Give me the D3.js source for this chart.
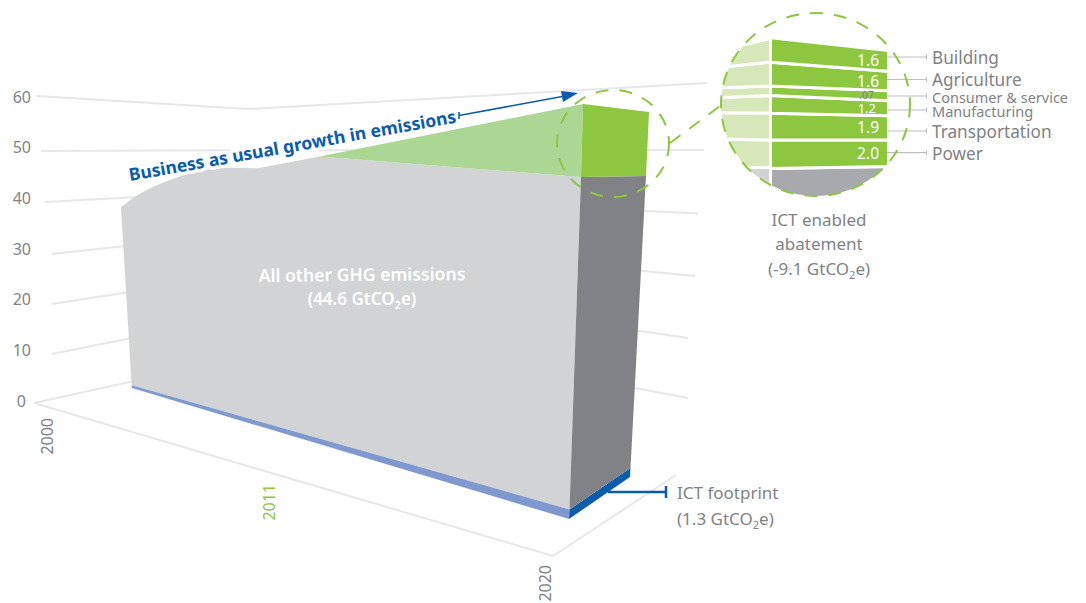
<!DOCTYPE html>
<html>
<head>
<meta charset="utf-8">
<script src="https://cdn.jsdelivr.net/npm/d3@7"></script>
<style>
  html, body { margin: 0; padding: 0; background: #fff; }
  text { font-family: "Noto Sans", sans-serif; fill: #808285; }
</style>
</head>
<body>
<script>
'use strict';

// values (GtCO2e)
var yTicks = [0, 10, 20, 30, 40, 50, 60];
var yearTicks = [2000, 2011, 2020];

// top edge of the wall: curved part, then a straight run to 2011
var wallYears = [2000, 2001.2, 2002.6, 2004.5, 2005.9, 2007.6];
var wallTop = [39, 42.2, 44.6, 46.65, 47.2, 47.1];
var wall2011 = 49;

var footprint2020 = 1.3;
var allOther2020 = 44.6;
var abatement2020 = 9.1;
var bauStartYear = 2011;

var sectors = ["Power", "Transportation", "Manufacturing", "Consumer & service", "Agriculture", "Building"];
var sectorValues = [2.0, 1.9, 1.2, 0.7, 1.6, 1.6];
var sectorLabels = ["2.0", "1.9", "1.2", ".07", "1.6", "1.6"];

var GREEN = "#8dc63f", LIGHT_GREEN = "#acd694", PALE_GREEN = "#d6e7b9";
var GRAY = "#d1d3d4", DARK_GRAY = "#808285", MID_GRAY = "#a7a9ac";
var BLUE = "#0a5cad", LIGHT_BLUE = "#7f99cf", GRID = "#e6e7e8";

var total2020 = footprint2020 + allOther2020;
var bau2020 = total2020 + abatement2020;

var svg = d3.select("body").append("svg")
   .attr("width", 1086)
   .attr("height", 603)
   .style("display", "block");

function sc(domain, range){
   return d3.scaleLinear().domain(domain).range(range);
}

// ---- the fake 3d box: each edge of it is a scale from value to pixel
var yearT = sc(yearTicks, [0, 0.435, 1]);
var frontLeftX = sc([0, 39], [132, 121]);
var frontLeftY = sc([0, footprint2020, 39], [388, 385.3, 207]);
var rightEdgeDomain = [0, footprint2020, total2020, bau2020];
var frontRightX = sc(rightEdgeDomain, [569, 569.5, 581, 583]);
var frontRightY = sc(rightEdgeDomain, [519, 509.5, 177, 104]);
var sideBackX = sc(rightEdgeDomain, [630, 630.5, 646, 649]);
var sideBackY = sc(rightEdgeDomain, [477, 468, 176, 112]);

function wall(year, value){
   var t = yearT(year);
   return [frontLeftX(value) + t * (frontRightX(value) - frontLeftX(value)),
           frontLeftY(value) + t * (frontRightY(value) - frontLeftY(value))];
}
function sideFront(value){ return [frontRightX(value), frontRightY(value)]; }
function sideBack(value){ return [sideBackX(value), sideBackY(value)]; }

// ---- grid
var leftEndX = sc(yTicks, [34, 52, 52, 52, 45, 41, 37]);
var leftEndY = sc(yTicks, [403, 354, 304, 254, 202, 151, 96]);
var backCornerX = sc([0, 60], [248, 248]);
var backCornerY = sc([0, 60], [356, 109]);
var rightEndX = sc(yTicks.slice(1), [688, 688, 695, 698, 704, 707]);
var rightEndY = sc(yTicks.slice(1), [398, 338, 276, 213.5, 150, 83]);

var lineFn = d3.line();

var grid = svg.append("g").attr("fill", "none").attr("stroke", GRID).attr("stroke-width", 2);
grid.selectAll("path.wall")
   .data(yTicks)
   .enter().append("path")
   .attr("class", "wall")
   .attr("d", function(d){
      var pts = [[leftEndX(d), leftEndY(d)], [backCornerX(d), backCornerY(d)]];
      if (d > 0) pts.push([rightEndX(d), rightEndY(d)]);
      return lineFn(pts);
   });

// floor
var floorX = sc([2000, 2020], [34, 553]);
var floorY = sc([2000, 2020], [403, 556]);
grid.append("path")
   .attr("d", lineFn([2000, 2020].map(function(y){ return [floorX(y), floorY(y)]; }).concat([[676, 475]])));

// ---- axes
var yLabelScale = sc([0, 60], [401, 97]);
var yAxis = svg.append("g")
   .attr("transform", "translate(31,0)")
   .call(d3.axisLeft(yLabelScale).tickValues(yTicks).tickSize(0).tickPadding(0));
yAxis.select(".domain").remove();
yAxis.selectAll("text")
   .style("font-size", "16px")
   .style("font-family", '"Noto Sans", sans-serif')
   .attr("dx", function(d){ return d === 0 ? -5 : 0; });

var yearLabelX = sc(yearTicks, [53, 275, 551]);
var yearLabelY = sc(yearTicks, [418, 484, 565]);
svg.selectAll("text.year")
   .data(yearTicks)
   .enter().append("text")
   .attr("class", "year")
   .attr("text-anchor", "end")
   .attr("transform", function(d){ return "translate(" + yearLabelX(d) + "," + yearLabelY(d) + ") rotate(-90)"; })
   .style("font-size", "16px")
   .style("fill", function(d){ return d === 2011 ? GREEN : DARK_GRAY; })
   .text(function(d){ return d; });

// ---- the wall
var topPts = wallYears.map(function(y, i){ return wall(y, wallTop[i]); });
var topLine = d3.line().curve(d3.curveMonotoneX);

svg.append("path")
   .attr("fill", GRAY)
   .attr("d", topLine(topPts) + "L" + wall(bauStartYear, wall2011) + "L" + wall(2020, total2020) + "L" + wall(2020, footprint2020) + "L" + wall(2000, footprint2020) + "Z");

svg.append("path")
   .attr("fill", LIGHT_BLUE)
   .attr("d", lineFn([wall(2000, 0), wall(2020, 0), wall(2020, footprint2020), wall(2000, footprint2020)]) + "Z");

svg.append("path")
   .attr("fill", LIGHT_GREEN)
   .attr("d", lineFn([wall(bauStartYear, wall2011), wall(2020, bau2020), wall(2020, total2020)]) + "Z");

var sideBands = [
   { from: 0, to: footprint2020, color: BLUE },
   { from: footprint2020, to: total2020, color: DARK_GRAY },
   { from: total2020, to: bau2020, color: GREEN }
];
svg.selectAll("path.side")
   .data(sideBands)
   .enter().append("path")
   .attr("class", "side")
   .attr("fill", function(d){ return d.color; })
   .attr("d", function(d){
      return lineFn([sideFront(d.from), sideBack(d.from), sideBack(d.to), sideFront(d.to)]) + "Z";
   });

// ---- text on the chart
function co2(sel, before){
   sel.append("tspan").text(before + "GtCO");
   sel.append("tspan").attr("dy", "0.35em").style("font-size", "65%").text("2");
   sel.append("tspan").attr("dy", "-0.23em").text("e)");
}

svg.append("text")
   .attr("transform", "translate(130,181) rotate(-10.15)")
   .style("font-size", "17.5px")
   .style("font-weight", 700)
   .style("fill", BLUE)
   .style("stroke", "#fff")
   .style("stroke-width", 7)
   .style("paint-order", "stroke")
   .style("stroke-linejoin", "round")
   .text("Business as usual growth in emissions");

var wallLabel = svg.append("g").attr("text-anchor", "middle").style("font-weight", 600);
wallLabel.append("text")
   .attr("transform", "translate(362,281) rotate(-0.5)")
   .style("font-size", "17.6px")
   .style("fill", "#fff")
   .text("All other GHG emissions");
wallLabel.append("text")
   .attr("x", 362).attr("y", 305)
   .style("font-size", "17px")
   .style("fill", "#fff")
   .call(co2, "(" + allOther2020 + " ");

// growth arrow
svg.append("path")
   .attr("fill", "none").attr("stroke", BLUE).attr("stroke-width", 1.5)
   .attr("d", lineFn([[459, 112], [459, 119]]) + lineFn([[459, 115.5], [565, 96]]));
svg.append("path")
   .attr("fill", BLUE)
   .attr("d", lineFn([[578, 93], [561, 91], [563, 102]]) + "Z");

// footprint leader
svg.append("path")
   .attr("fill", "none").attr("stroke", BLUE).attr("stroke-width", 2.5)
   .attr("d", lineFn([[608, 492], [666, 492]]) + lineFn([[666, 486], [666, 498]]));
var fpLabel = svg.append("g").style("font-size", "17px");
fpLabel.append("text").attr("x", 677).attr("y", 499).text("ICT footprint");
fpLabel.append("text").attr("x", 677).attr("y", 525).call(co2, "(" + footprint2020 + " ");

// ---- magnified inset: same stack, cut by a circle
var cum = d3.cumsum(sectorValues);
var stackDomain = [0].concat(Array.from(cum));
var darkLeftY = sc(stackDomain, [168.4, 140, 113.2, 95.6, 86.1, 62.3, 37.8]);
var darkRightY = sc(stackDomain, [166.5, 139.9, 115.7, 100.7, 90.7, 71.3, 50.5]);
var paleRightY = sc(stackDomain, [167.5, 140, 113, 95.6, 86, 62, 38.5]);
var paleLeftY = sc(stackDomain, [168, 139, 112.7, 97.7, 88, 68, 52]);

var insetX = { paleLeft: 715, split: 770.5, right: 888.5 };

svg.append("clipPath").attr("id", "insetClip")
   .append("ellipse")
   .attr("cx", 815.5).attr("cy", 104.5).attr("rx", 94.5).attr("ry", 91.5);

var inset = svg.append("g").attr("clip-path", "url(#insetClip)");

inset.append("path")
   .attr("fill", GRAY)
   .attr("d", lineFn([[insetX.paleLeft, paleLeftY(0)], [insetX.split, paleRightY(0)], [insetX.split, 200], [insetX.paleLeft, 200]]) + "Z");
inset.append("path")
   .attr("fill", MID_GRAY)
   .attr("d", lineFn([[insetX.split, darkLeftY(0)], [insetX.right, darkRightY(0)], [insetX.right, 200], [insetX.split, 200]]) + "Z");

var segments = sectorValues.map(function(v, i){
   return { from: stackDomain[i], to: stackDomain[i + 1], i: i };
});
inset.selectAll("path.pale")
   .data(segments)
   .enter().append("path")
   .attr("class", "pale")
   .attr("fill", PALE_GREEN)
   .attr("d", function(d){
      return lineFn([[insetX.paleLeft, paleLeftY(d.from)], [insetX.split, paleRightY(d.from)],
                     [insetX.split, paleRightY(d.to)], [insetX.paleLeft, paleLeftY(d.to)]]) + "Z";
   });
inset.selectAll("path.dark")
   .data(segments)
   .enter().append("path")
   .attr("class", "dark")
   .attr("fill", GREEN)
   .attr("d", function(d){
      return lineFn([[insetX.split, darkLeftY(d.from)], [insetX.right, darkRightY(d.from)],
                     [insetX.right, darkRightY(d.to)], [insetX.split, darkLeftY(d.to)]]) + "Z";
   });
inset.selectAll("path")
   .attr("stroke", "#fff").attr("stroke-width", 3).attr("stroke-linejoin", "miter");

// value labels in the bars
svg.selectAll("text.val")
   .data(segments)
   .enter().append("text")
   .attr("class", "val")
   .attr("text-anchor", "end")
   .attr("x", function(d){
      var v = sectorValues[d.i];
      return v < 1 ? 874 : v < 1.5 ? 876 : 879;
   })
   .attr("y", function(d){ return (darkRightY(d.from) + darkRightY(d.to)) / 2; })
   .attr("dy", "0.36em")
   .style("font-size", function(d){
      var v = sectorValues[d.i];
      return v < 1 ? "10.5px" : v < 1.5 ? "13px" : "15.5px";
   })
   .style("fill", function(d){ return sectorValues[d.i] < 1 ? DARK_GRAY : "#fff"; })
   .text(function(d){ return sectorLabels[d.i]; });

// sector leaders and names
var leaderY = [152.7, 131, 110, 96, 79.5, 57];
var nameY = [154, 132, 112, 98, 80, 58];
var leaders = svg.append("g").attr("fill", "none").attr("stroke", "#bcbec0").attr("stroke-width", 1.2);
leaderY.forEach(function(y){
   leaders.append("path").attr("d", lineFn([[887, y], [926.5, y]]) + lineFn([[926.5, y - 2.5], [926.5, y + 2.5]]));
});
svg.selectAll("text.sector")
   .data(sectors)
   .enter().append("text")
   .attr("class", "sector")
   .attr("x", 932)
   .attr("y", function(d, i){ return nameY[i]; })
   .attr("dy", "0.36em")
   .style("font-size", function(d, i){ return sectorValues[i] < 1.5 ? "14.5px" : "17.2px"; })
   .text(function(d){ return d; });

var abLabel = svg.append("g").attr("text-anchor", "middle").style("font-size", "17px");
abLabel.append("text").attr("x", 819).attr("y", 226).text("ICT enabled");
abLabel.append("text").attr("x", 819).attr("y", 250).text("abatement");
abLabel.append("text").attr("x", 819).attr("y", 275).call(co2, "(-" + abatement2020 + " ");

// ---- dashed lens and its connector
var dash = svg.append("g")
   .attr("fill", "none").attr("stroke", GREEN).attr("stroke-width", 2).attr("stroke-dasharray", "13 11");
dash.append("ellipse").attr("cx", 613).attr("cy", 143.5).attr("rx", 56).attr("ry", 53.5);
dash.append("ellipse").attr("cx", 815.5).attr("cy", 104.5).attr("rx", 94.5).attr("ry", 91.5);
dash.append("path").attr("d", lineFn([[670, 143], [720, 106]]));
</script>
</body>
</html>
